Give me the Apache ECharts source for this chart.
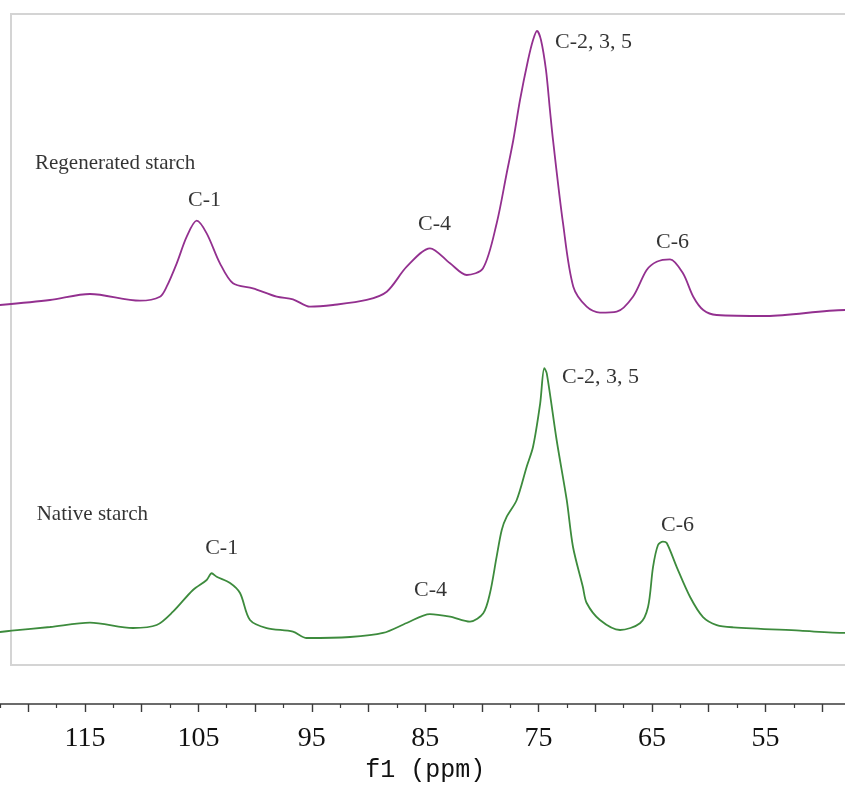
<!DOCTYPE html>
<html>
<head>
<meta charset="utf-8">
<script src="https://cdn.jsdelivr.net/npm/echarts@6/dist/echarts.min.js"></script>
<style>html,body{margin:0;padding:0;background:#fff;}#c{width:845px;height:787px;}</style>
</head>
<body>
<div id="c"></div>
<script>
// Regenerated starch (upper trace)
const regenShift = [122.5,118.09,114.56,110.15,108.39,107.80,106.91,106.03,105.15,104.27,103.10,101.95,100.19,98.09,96.66,95.16,93.13,90.16,88.39,86.63,84.58,82.81,81.34,79.90,78.69,77.81,77.23,76.64,75.93,75.49,75.14,74.79,74.35,74.00,73.73,72.85,71.94,70.76,69.59,68.11,66.68,65.47,64.59,63.41,62.27,61.36,60.48,59.30,54.89,47.98,47.5];
const regenInt = [55.3,56.07,56.99,55.96,56.57,58.11,61.70,65.79,68.25,66.31,61.70,58.63,57.86,56.57,56.18,55.04,55.30,56.07,57.34,61.18,64.01,61.70,59.91,60.94,67.90,75.58,80.65,86.79,92.93,96.01,97.39,96.01,91.40,85.25,80.65,67.90,58.11,55.04,54.12,54.27,56.57,60.68,61.95,62.32,60.17,56.57,54.53,53.76,53.61,54.53,54.53];

// Native starch (lower trace)
const nativeShift = [122.5,121.46,118.09,114.56,110.77,108.68,107.24,105.48,104.27,103.83,103.39,102.21,101.33,100.45,98.98,96.66,95.45,91.63,88.72,86.63,84.58,82.81,81.05,79.88,79.29,78.70,78.25,77.81,76.93,76.05,75.49,74.86,74.50,74.28,73.41,72.52,71.97,71.10,70.76,69.59,67.82,66.06,65.35,64.91,64.47,64.03,63.70,62.82,61.64,60.50,59.29,57.83,51.95,47.98,47.5];
const nativeInt = [5.07,5.27,5.84,6.50,5.68,6.14,8.19,11.52,13.06,14.09,13.56,12.60,11.06,6.91,5.68,5.12,4.15,4.30,4.92,6.45,7.83,7.42,6.65,7.94,11.01,16.64,20.74,22.78,25.35,30.46,33.53,40.2,45.58,44.8,34.56,25.35,18.17,12.03,9.52,6.91,5.38,6.41,8.91,15.05,18.43,18.94,18.74,15.05,10.45,7.37,6.14,5.79,5.27,4.92,4.92];

// Annotations
const sampleNames = ['Regenerated starch','Native starch'];
const sampleShift = [119.41,119.26];
const sampleInt = [77.11,23.12];
const peakNames = ['C-1','C-4','C-6','C-1','C-4','C-6'];
const peakShift = [104.46,84.18,63.19,102.95,84.53,62.75];
const peakInt = [71.43,67.67,64.90,17.90,11.44,21.43];
const mainPeakName = 'C-2, 3, 5';
const mainShift = [73.55,72.94];
const mainInt = [95.70,44.16];

const xTicks = [115,105,95,85,75,65,55];

const zip = (a,b) => a.map((v,i)=>[v,b[i]]);

const chart = echarts.init(document.getElementById('c'));
const peakFont = {fontFamily:'Liberation Serif', fontSize:22, color:'#000'};
chart.setOption({
  animation:false,
  backgroundColor:'#fff',
  graphic:[{type:'rect', shape:{x:11,y:14,width:870,height:651}, style:{fill:'none',stroke:'#d4d4d4',lineWidth:2}, z:-1, silent:true}],
  grid:{left:-28.4, right:-33.8, top:14, bottom:122, containLabel:false, outerBoundsMode:'none'},
  xAxis:{
    type:'value', min:45, max:125, interval:5, inverse:true, position:'bottom', offset:39,
    axisLine:{show:true, onZero:false, lineStyle:{color:'#3a3a3a', width:1.6}},
    axisTick:{show:true, length:8, lineStyle:{color:'#3a3a3a', width:1.4}},
    minorTick:{show:true, splitNumber:2, length:4, lineStyle:{color:'#3a3a3a', width:1.2}},
    splitLine:{show:false}, minorSplitLine:{show:false},
    axisLabel:{margin:21, fontFamily:'Liberation Serif', fontSize:28, color:'#111',
      formatter:v => xTicks.indexOf(Math.round(v))>=0 ? String(Math.round(v)) : ''},
    name:'f1 (ppm)', nameLocation:'middle', nameGap:53,
    nameTextStyle:{fontFamily:'Liberation Mono', fontSize:25, color:'#111'}
  },
  yAxis:{type:'value', min:0, max:100, show:false},
  series:[
    {type:'line', data:zip(regenShift,regenInt), showSymbol:false, smooth:0.3,
     lineStyle:{color:'#93308f', width:1.8}},
    {type:'line', data:zip(nativeShift,nativeInt), showSymbol:false, smooth:0.3,
     lineStyle:{color:'#3d8b3d', width:1.8}},
    {type:'scatter', symbolSize:0, data:zip(sampleShift,sampleInt).map((p,i)=>({value:p,name:sampleNames[i]})),
     label:{show:true, position:'right', distance:0, formatter:p=>p.name, fontFamily:'Liberation Serif', fontSize:21, color:'#000'}},
    {type:'scatter', symbolSize:0, data:zip(peakShift,peakInt).map((p,i)=>({value:p,name:peakNames[i]})),
     label:Object.assign({show:true, position:'inside', formatter:p=>p.name}, peakFont)},
    {type:'scatter', symbolSize:0, data:zip(mainShift,mainInt).map(p=>({value:p,name:mainPeakName})),
     label:Object.assign({show:true, position:'right', distance:0, formatter:p=>p.name}, peakFont)}
  ]
});
</script>
</body>
</html>
